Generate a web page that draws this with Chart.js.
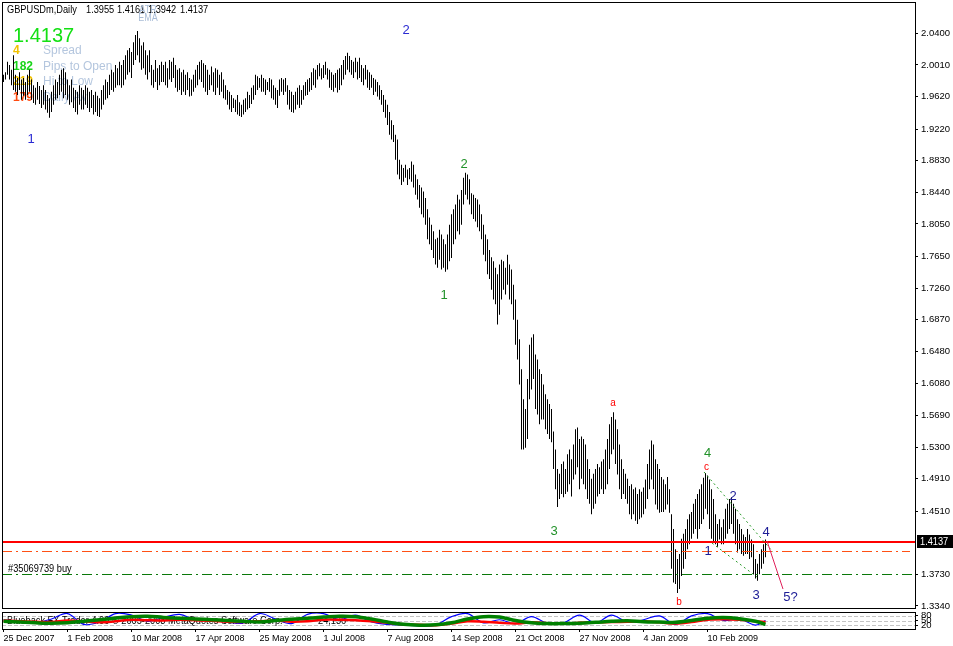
<!DOCTYPE html>
<html>
<head>
<meta charset="utf-8">
<script src="https://cdn.jsdelivr.net/npm/chart.js@4.4.0/dist/chart.umd.min.js"></script>
<style>
  html, body { margin: 0; padding: 0; background: #fff; }
  #wrap { position: relative; width: 953px; height: 646px; overflow: hidden; }
  canvas { position: absolute; left: 0; }
  #main { top: 0; }
  #sub { top: 611px; }
</style>
</head>
<body>
<div id="wrap">
  <canvas id="main" width="953" height="611"></canvas>
  <canvas id="sub" width="953" height="35"></canvas>
</div>
<script>
// GBPUSDm daily bars, one per trading day from 25 Dec 2007
const barHighs = [
  1.989,1.992,2.005,2.001,1.995,2.013,1.989,1.985,1.992,1.983,
  1.985,1.980,1.989,1.995,1.983,1.976,1.973,1.980,1.975,1.970,
  1.976,1.970,1.964,1.960,1.968,1.976,1.983,1.980,1.989,1.995,
  1.997,1.992,1.983,1.976,1.983,1.973,1.970,1.968,1.976,1.973,
  1.970,1.976,1.973,1.968,1.970,1.964,1.968,1.963,1.960,1.970,
  1.976,1.983,1.980,1.989,1.995,1.992,2.001,1.997,2.005,2.001,
  2.007,2.013,2.019,2.022,2.017,2.029,2.038,2.043,2.034,2.025,
  2.029,2.019,2.013,2.019,2.001,1.995,2.007,1.997,2.001,2.005,
  2.001,2.005,1.997,2.007,2.005,2.010,2.001,1.995,1.997,1.992,
  1.995,1.989,1.992,1.985,1.983,1.989,1.995,2.001,2.005,2.007,
  2.003,2.001,1.995,1.989,1.999,1.992,1.997,1.995,1.989,1.992,
  1.983,1.976,1.970,1.968,1.964,1.960,1.958,1.964,1.955,1.952,
  1.958,1.960,1.968,1.964,1.973,1.976,1.989,1.987,1.985,1.989,
  1.985,1.983,1.980,1.985,1.983,1.976,1.973,1.970,1.983,1.985,
  1.983,1.985,1.976,1.970,1.968,1.964,1.968,1.973,1.976,1.970,
  1.976,1.980,1.983,1.985,1.992,1.997,1.995,2.001,2.003,1.997,
  2.001,2.005,1.997,1.995,1.992,1.989,1.991,1.995,1.997,2.001,
  2.007,2.012,2.016,2.012,2.007,2.005,2.010,2.005,2.010,2.001,
  1.997,2.001,1.995,1.992,1.989,1.985,1.983,1.980,1.976,1.970,
  1.964,1.958,1.952,1.943,1.933,1.927,1.915,1.909,1.884,1.878,
  1.874,1.878,1.872,1.874,1.882,1.878,1.866,1.860,1.853,1.850,
  1.845,1.837,1.823,1.813,1.804,1.796,1.786,1.788,1.798,1.792,
  1.786,1.780,1.792,1.804,1.817,1.823,1.829,1.841,1.835,1.847,
  1.862,1.868,1.866,1.860,1.843,1.841,1.837,1.835,1.829,1.817,
  1.804,1.792,1.786,1.773,1.764,1.759,1.751,1.743,1.755,1.761,
  1.759,1.751,1.767,1.755,1.749,1.730,1.712,1.687,1.663,1.626,
  1.589,1.577,1.614,1.656,1.665,1.669,1.644,1.638,1.626,1.620,
  1.607,1.595,1.589,1.583,1.577,1.549,1.527,1.503,1.497,1.509,
  1.512,1.503,1.521,1.527,1.515,1.533,1.552,1.554,1.540,1.543,
  1.540,1.533,1.515,1.503,1.491,1.497,1.503,1.509,1.505,1.512,
  1.515,1.527,1.540,1.558,1.567,1.573,1.564,1.552,1.533,1.515,
  1.503,1.497,1.491,1.482,1.484,1.478,1.480,1.472,1.478,1.475,
  1.480,1.490,1.509,1.527,1.538,1.533,1.515,1.509,1.503,1.493,
  1.490,1.484,1.493,1.478,1.447,1.429,1.404,1.392,1.398,1.417,
  1.423,1.429,1.441,1.447,1.450,1.460,1.466,1.472,1.478,1.484,
  1.492,1.498,1.495,1.490,1.478,1.466,1.447,1.435,1.441,1.431,
  1.441,1.454,1.460,1.466,1.468,1.460,1.454,1.441,1.435,1.429,
  1.422,1.419,1.429,1.422,1.416,1.410,1.392,1.386,1.398,1.404,
  1.410,1.416
];
const barLows = [
  1.980,1.983,1.989,1.983,1.976,1.970,1.968,1.964,1.970,1.958,
  1.963,1.958,1.964,1.968,1.958,1.954,1.952,1.958,1.953,1.948,
  1.952,1.946,1.942,1.936,1.943,1.952,1.958,1.960,1.964,1.968,
  1.960,1.964,1.958,1.952,1.955,1.948,1.943,1.940,1.952,1.946,
  1.946,1.952,1.948,1.943,1.948,1.940,1.943,1.938,1.937,1.946,
  1.952,1.958,1.960,1.964,1.970,1.968,1.973,1.976,1.976,1.973,
  1.976,1.983,1.989,1.992,1.985,2.001,2.007,2.013,2.004,1.995,
  1.997,1.989,1.983,1.992,1.976,1.973,1.980,1.970,1.976,1.980,
  1.980,1.976,1.973,1.983,1.980,1.985,1.973,1.968,1.970,1.964,
  1.968,1.964,1.970,1.962,1.963,1.968,1.973,1.976,1.983,1.980,
  1.973,1.968,1.964,1.970,1.976,1.968,1.964,1.973,1.964,1.968,
  1.960,1.958,1.952,1.946,1.943,1.948,1.943,1.940,1.938,1.937,
  1.940,1.943,1.946,1.948,1.953,1.958,1.964,1.970,1.973,1.968,
  1.968,1.964,1.970,1.968,1.960,1.958,1.952,1.948,1.963,1.968,
  1.964,1.968,1.952,1.946,1.943,1.942,1.946,1.952,1.948,1.952,
  1.958,1.963,1.964,1.968,1.970,1.976,1.973,1.983,1.987,1.983,
  1.985,1.989,1.983,1.973,1.970,1.968,1.973,1.967,1.970,1.976,
  1.983,1.989,1.995,1.992,1.989,1.985,1.992,1.983,1.985,1.980,
  1.976,1.983,1.973,1.970,1.973,1.964,1.968,1.962,1.958,1.952,
  1.943,1.936,1.927,1.915,1.909,1.906,1.884,1.866,1.860,1.853,
  1.857,1.862,1.853,1.860,1.857,1.850,1.841,1.835,1.825,1.817,
  1.813,1.804,1.786,1.780,1.773,1.763,1.755,1.751,1.761,1.749,
  1.751,1.746,1.749,1.759,1.763,1.780,1.786,1.796,1.792,1.804,
  1.829,1.841,1.835,1.829,1.817,1.811,1.808,1.801,1.796,1.786,
  1.767,1.759,1.743,1.737,1.724,1.712,1.706,1.681,1.693,1.712,
  1.724,1.718,1.730,1.712,1.706,1.687,1.656,1.638,1.607,1.527,
  1.527,1.529,1.540,1.589,1.601,1.614,1.577,1.570,1.558,1.564,
  1.564,1.552,1.546,1.540,1.536,1.503,1.478,1.456,1.466,1.472,
  1.468,1.472,1.475,1.484,1.469,1.490,1.496,1.505,1.478,1.491,
  1.484,1.478,1.466,1.460,1.447,1.454,1.460,1.469,1.472,1.478,
  1.472,1.478,1.484,1.503,1.521,1.527,1.509,1.496,1.478,1.466,
  1.472,1.466,1.460,1.447,1.441,1.447,1.439,1.435,1.441,1.443,
  1.447,1.454,1.466,1.478,1.490,1.478,1.459,1.453,1.449,1.450,
  1.450,1.453,1.459,1.449,1.380,1.363,1.361,1.350,1.355,1.371,
  1.380,1.392,1.404,1.410,1.417,1.423,1.429,1.417,1.429,1.435,
  1.441,1.454,1.447,1.429,1.417,1.412,1.410,1.407,1.416,1.410,
  1.410,1.417,1.423,1.429,1.435,1.423,1.410,1.400,1.404,1.398,
  1.396,1.398,1.398,1.392,1.394,1.373,1.368,1.365,1.373,1.380,
  1.386,1.394
];

// price axis labels as printed by the terminal
const priceTicks = [2.04, 2.001, 1.962, 1.922, 1.883, 1.844, 1.805, 1.765, 1.726,
  1.687, 1.648, 1.608, 1.569, 1.53, 1.491, 1.451, 1.373, 1.334];
const lastPrice = 1.4137;
const orderLevels = [1.402, 1.373];   // dash-dot order lines (orange, green)

// time axis
const dateBars = [0, 32, 64, 96, 128, 160, 192, 224, 256, 288, 320, 352];
const dateLabels = ['25 Dec 2007', '1 Feb 2008', '10 Mar 2008', '17 Apr 2008', '25 May 2008',
  '1 Jul 2008', '7 Aug 2008', '14 Sep 2008', '21 Oct 2008', '27 Nov 2008', '4 Jan 2009', '10 Feb 2009'];

// oscillator sub-window
const indBars = [0,8,16,24,32,40,48,56,64,72,80,88,96,104,112,120,128,136,144,152,160,168,176,184,
  192,200,208,216,224,232,240,248,256,264,272,280,288,296,304,312,320,328,336,344,352,360,368,376,381];
const oscBlue = [55,45,35,60,95,25,40,95,85,45, 70,90,55,60,40,35,95,60,30,90,
  95,55,85,40,25,20,15,20,75,95, 35,55,30,75,30,35,85,35,85,40, 55,80,25,80,95,50,60,20,50];
const oscRed = [50,45,42,40,50,45,38,45,55,52, 50,55,52,48,42,40,45,50,42,45,
  55,55,52,45,35,25,22,20,30,45, 42,35,30,38,33,30,35,38,40,42, 45,38,30,40,55,58,55,45,40];
const oscGreen = [45,40,35,32,35,45,55,65,75,78, 70,65,60,55,50,45,40,50,58,65,
  72,78,75,60,40,25,20,22,35,60, 75,72,50,35,30,30,32,38,45,48, 42,40,38,50,65,70,62,45,25];
const oscLevels = [20, 50, 80];

// Elliott wave labels: [text, bar, price, colour, font size]
const waveLabels = [
  ['1', 13.75, 1.9097, '#2a2ad2', 13], ['2', 201.25, 2.0441, '#2a2ad2', 13],
  ['1', 220.25, 1.7174, '#22922a', 13], ['2', 230.25, 1.8789, '#22922a', 13],
  ['3', 275.25, 1.4264, '#22922a', 13], ['4', 352, 1.5226, '#22922a', 13],
  ['a', 304.75, 1.5836, '#ff0000', 10], ['b', 337.75, 1.3389, '#ff0000', 10],
  ['c', 351.5, 1.5053, '#ff0000', 10],
  ['1', 352.25, 1.4018, '#1c1c96', 13], ['2', 364.75, 1.4696, '#1c1c96', 13],
  ['3', 376.25, 1.3475, '#1c1c96', 13], ['4', 381.25, 1.4252, '#1c1c96', 13],
  ['5?', 393.5, 1.3451, '#1c1c96', 13]
];
// wedge lines and projected leg: [bar1, price1, bar2, price2]
const wedgeUpper = [350.25, 1.4992, 384.75, 1.4005];
const wedgeLower = [354.25, 1.4116, 376.75, 1.3697];
const projection = [381.75, 1.4141, 389.75, 1.3549];

const PRICE_MAX = 2.0774;
const PRICE_MIN = 1.3303;
const X_MIN = -0.75, X_MAX = 455.75;

const SANS = "'Liberation Sans', Arial, sans-serif";

Chart.defaults.font.family = SANS;
Chart.defaults.font.size = 9.5;
Chart.defaults.color = '#000';

// text helper; sx < 1 squeezes the glyphs like the terminal's narrow font
function put(ctx, s, x, y, color, font, align, sx) {
  ctx.save();
  ctx.font = font;
  ctx.fillStyle = color;
  ctx.textAlign = align || 'left';
  ctx.textBaseline = 'middle';
  ctx.translate(x, y);
  ctx.scale(sx || 1, 1);
  ctx.fillText(s, 0, 0);
  ctx.restore();
}

function hLine(ctx, a, yPix, color, dash, right, thick) {
  const yy = Math.round(yPix);
  const end = right || a.right;
  const h = thick || 1;
  ctx.fillStyle = color;
  if (!dash.length) {
    ctx.fillRect(a.left, yy, end - a.left, h);
    return;
  }
  let xx = a.left, k = 0;
  while (xx < end) {
    const len = dash[k % dash.length];
    if (k % 2 === 0) ctx.fillRect(xx, yy, Math.min(len, end - xx), h);
    xx += len;
    k++;
  }
}

function segment(ctx, x, y, seg, color, dash) {
  ctx.strokeStyle = color;
  ctx.lineWidth = 1;
  ctx.setLineDash(dash);
  ctx.beginPath();
  ctx.moveTo(x.getPixelForValue(seg[0]), y.getPixelForValue(seg[1]));
  ctx.lineTo(x.getPixelForValue(seg[2]), y.getPixelForValue(seg[3]));
  ctx.stroke();
  ctx.setLineDash([]);
}

const infoValues = ['4', '182', '219', '179'];
const infoNames = ['Spread', 'Pips to Open', 'Hi to Low', 'Daily Av'];
const infoColors = ['#f2c200', '#19d419', '#f2c200', '#ff4a10'];

const mainDecor = {
  id: 'mainDecor',
  beforeDatasetsDraw(chart) {
    const ctx = chart.ctx;
    put(ctx, '1.4137', 13, 36, '#14e014', '20px ' + SANS);
    infoValues.forEach((v, k) => {
      const yy = 51 + k * 15.5;
      put(ctx, v, 13, yy, infoColors[k], 'bold 12px ' + SANS);
      put(ctx, infoNames[k], 43, yy, '#b4c6de', '12px ' + SANS);
    });
  },
  afterDatasetsDraw(chart) {
    const { ctx, chartArea: a, scales: { x, y } } = chart;
    ctx.save();
    hLine(ctx, a, y.getPixelForValue(orderLevels[0]), 'rgb(255,80,20)', [10, 4, 2, 4], 910);
    hLine(ctx, a, y.getPixelForValue(orderLevels[1]), 'rgb(10,120,10)', [10, 4, 2, 4], 913);
    hLine(ctx, a, y.getPixelForValue(lastPrice) - 0.5, 'rgb(255,0,0)', [], null, 2);
    segment(ctx, x, y, wedgeUpper, '#2a9a2a', [2, 3]);
    segment(ctx, x, y, wedgeLower, '#2a9a2a', [2, 3]);
    segment(ctx, x, y, projection, '#e0205a', []);
    waveLabels.forEach(([t, b, p, c, fs]) => {
      put(ctx, t, x.getPixelForValue(b), y.getPixelForValue(p), c, fs + 'px ' + SANS, 'center');
    });
    put(ctx, '#35069739 buy', 8, 569, '#000', '11px ' + SANS, 'left', 0.84);
    ctx.restore();
  },
  afterDraw(chart) {
    const { ctx, chartArea: a, scales: { y } } = chart;
    ctx.save();
    ctx.strokeStyle = '#000';
    ctx.lineWidth = 1;
    ctx.strokeRect(a.left + 0.5, a.top - 0.5, a.right - a.left, a.bottom - a.top);
    // header line
    const hf = '11px ' + SANS;
    put(ctx, 'GBPUSDm,Daily', 7, 10, '#000', hf, 'left', 0.84);
    put(ctx, '1.3955', 86, 10, '#000', hf, 'left', 0.84);
    put(ctx, '1.4161', 117, 10, '#000', hf, 'left', 0.84);
    put(ctx, '1.3942', 148, 10, '#000', hf, 'left', 0.84);
    put(ctx, '1.4137', 180, 10, '#000', hf, 'left', 0.84);
    put(ctx, 'ATR', 148, 10, '#a9bcd6', '10px ' + SANS, 'center', 0.9);
    put(ctx, 'EMA', 148, 18, '#a9bcd6', '10px ' + SANS, 'center', 0.9);
    // current price tag on the axis
    const py = Math.round(y.getPixelForValue(lastPrice));
    ctx.fillStyle = '#000';
    ctx.fillRect(917, py - 6, 36, 13);
    put(ctx, lastPrice.toFixed(4), 920, py + 0.5, '#fff', '11px ' + SANS, 'left', 0.84);
    ctx.restore();
  }
};

new Chart(document.getElementById('main'), {
  type: 'bar',
  data: {
    datasets: [{
      data: barHighs.map((h, k) => ({ x: k, y: [barLows[k], h] })),
      backgroundColor: '#000',
      borderWidth: 0,
      barThickness: 1,
      inflateAmount: 0
    }]
  },
  options: {
    responsive: false,
    animation: false,
    devicePixelRatio: 1,
    layout: { padding: { left: 2, top: 3, right: 0, bottom: 2 } },
    plugins: { legend: { display: false }, tooltip: { enabled: false } },
    scales: {
      x: { type: 'linear', min: X_MIN, max: X_MAX, offset: false, display: false },
      y: {
        position: 'right',
        min: PRICE_MIN,
        max: PRICE_MAX,
        afterBuildTicks: s => { s.ticks = priceTicks.map(v => ({ value: v })); },
        afterFit: s => { s.width = 38; s.paddingTop = 0; s.paddingBottom = 0; },
        ticks: { autoSkip: false, padding: 3, callback: v => v.toFixed(4) },
        grid: { drawOnChartArea: false, drawTicks: true, tickLength: 3, color: '#000' },
        border: { display: false }
      }
    }
  },
  plugins: [mainDecor]
});

const subDecor = {
  id: 'subDecor',
  beforeDatasetsDraw(chart) {
    const { ctx, chartArea: a, scales: { y } } = chart;
    ctx.save();
    oscLevels.forEach(v => hLine(ctx, a, y.getPixelForValue(v), '#c4c4c4', [4, 2]));
    put(ctx, 'Blueback FX Trader 4.00 \u00a9 2005-2008 MetaQuotes Software Corp.', 7, 9.5, '#000', '11px ' + SANS, 'left', 0.84);
    put(ctx, '24,136', 318, 9.5, '#000', '11px ' + SANS, 'left', 0.84);
    ctx.restore();
  },
  afterDraw(chart) {
    const { ctx, chartArea: a } = chart;
    ctx.save();
    ctx.strokeStyle = '#000';
    ctx.lineWidth = 1;
    ctx.strokeRect(a.left + 0.5, a.top + 0.5, a.right - a.left, a.bottom - a.top);
    ctx.restore();
  }
};

function oscSet(values, color, width, order) {
  return {
    data: values.map((v, k) => ({ x: indBars[k], y: v })),
    borderColor: color,
    borderWidth: width,
    pointRadius: 0,
    tension: 0.35,
    order: order
  };
}

new Chart(document.getElementById('sub'), {
  type: 'line',
  data: {
    datasets: [
      oscSet(oscBlue, '#0000ff', 1.2, 3),
      oscSet(oscRed, '#ff0000', 2.5, 2),
      oscSet(oscGreen, '#008000', 3.5, 1)
    ]
  },
  options: {
    responsive: false,
    animation: false,
    devicePixelRatio: 1,
    layout: { padding: { left: 2, top: 1, right: 0, bottom: 0 } },
    plugins: { legend: { display: false }, tooltip: { enabled: false } },
    scales: {
      x: {
        type: 'linear', min: X_MIN, max: X_MAX,
        afterBuildTicks: s => { s.ticks = dateBars.map(v => ({ value: v })); },
        afterFit: s => { s.height = 17; s.paddingLeft = 0; s.paddingRight = 0; },
        ticks: { autoSkip: false, maxRotation: 0, align: 'start', padding: 1,
                 font: { size: 9 }, callback: (v, k) => dateLabels[k] },
        grid: { drawOnChartArea: false, tickLength: 3, color: '#000' },
        border: { display: false }
      },
      y: {
        position: 'right', min: -5, max: 105,
        afterBuildTicks: s => { s.ticks = oscLevels.map(v => ({ value: v })); },
        afterFit: s => { s.width = 38; s.paddingTop = 0; s.paddingBottom = 0; },
        ticks: { autoSkip: false, padding: 3 },
        grid: { drawOnChartArea: false, tickLength: 3, color: '#000' },
        border: { display: false }
      }
    }
  },
  plugins: [subDecor]
});
</script>
</body>
</html>
